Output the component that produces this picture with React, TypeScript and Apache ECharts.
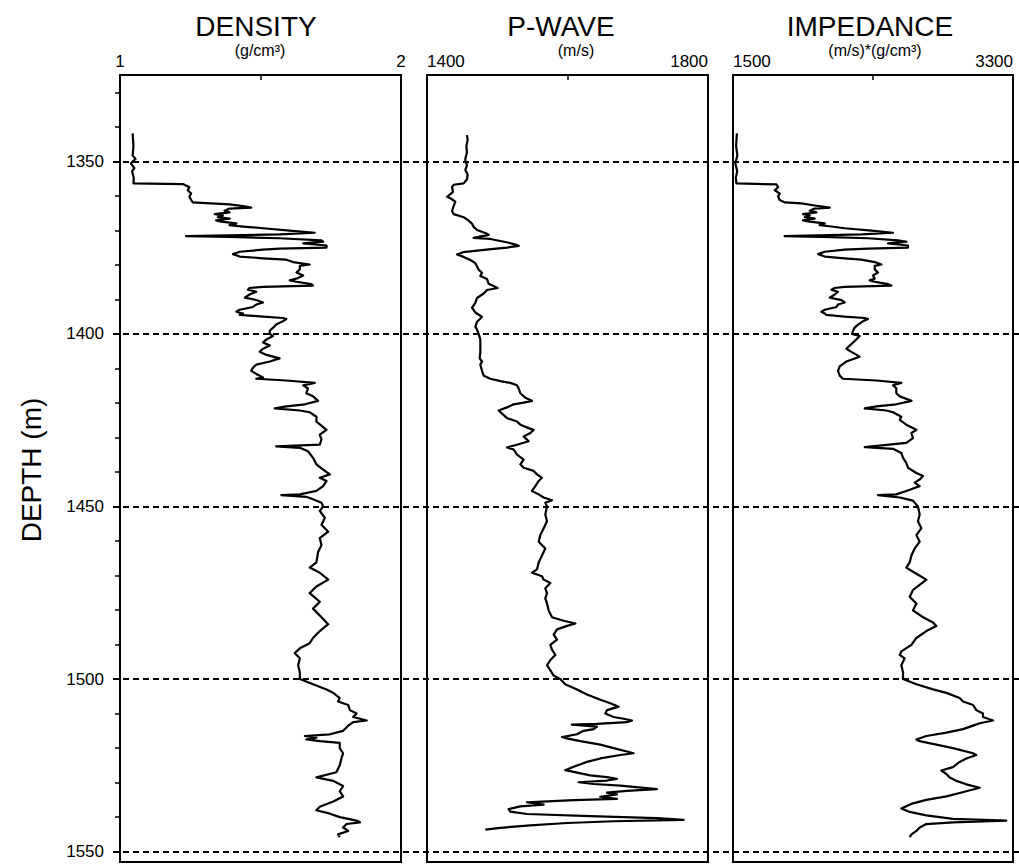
import React, { useEffect, useRef } from "react";
import * as echarts from "echarts";

// ---------- axes / labels ----------
const depthMin = 1325;
const depthMax = 1553;
const depthMajorTicks = [1350, 1400, 1450, 1500, 1550];
const depthMinorTicks = [1330, 1340, 1360, 1370, 1380, 1390, 1410, 1420, 1430, 1440, 1460, 1470, 1480, 1490, 1510, 1520, 1530, 1540];
const panelTitles = ["DENSITY", "P-WAVE", "IMPEDANCE"];
const panelUnits = ["(g/cm³)", "(m/s)", "(m/s)*(g/cm³)"];
const densityRange = [1, 2];
const densityMidTick = [1.5];
const pwaveRange = [1400, 1800];
const pwaveMidTick = [1600];
const impRange = [1500, 3300];
const impMidTick = [2400];

// ---------- DENSITY log ----------
const densityDepth = [1341.9,1345.6,1348.3,1349.3,1350.6,1352.0,1352.9,1354.8,1356.4,1356.6,
1357.5,1358.4,1359.3,1360.2,1361.2,1361.9,1362.5,1363.0,1363.4,1363.7,
1364.3,1364.8,1365.3,1365.7,1366.2,1366.6,1367.1,1367.5,1368.0,1368.5,
1368.9,1369.4,1370.1,1370.7,1371.2,1371.7,1371.9,1372.3,1372.9,1373.3,
1373.8,1374.4,1375.0,1375.3,1375.6,1376.2,1376.9,1377.6,1378.1,1378.5,
1379.2,1379.9,1380.3,1381.3,1382.2,1383.1,1384.0,1384.5,1384.9,1385.6,
1386.0,1386.4,1386.7,1387.2,1387.8,1388.6,1389.5,1390.2,1390.9,1391.5,
1392.2,1393.0,1393.6,1394.1,1394.5,1395.0,1395.4,1395.7,1396.3,1397.3,
1398.2,1399.1,1400.0,1400.6,1401.6,1402.5,1403.4,1404.3,1405.2,1406.1,
1407.1,1408.0,1408.9,1409.8,1410.7,1411.6,1412.6,1413.0,1413.5,1414.2,
1414.9,1415.8,1417.2,1418.1,1419.4,1420.4,1421.0,1421.6,1422.2,1422.7,
1424.0,1425.4,1427.8,1429.2,1430.6,1432.1,1432.6,1433.0,1434.0,1435.9,
1437.8,1439.3,1440.7,1441.7,1442.6,1444.1,1445.5,1446.5,1446.7,1447.2,
1447.9,1448.9,1450.0,1451.3,1453.3,1455.3,1457.3,1459.2,1461.2,1463.2,
1466.2,1467.7,1469.2,1471.2,1473.2,1475.1,1477.6,1479.6,1482.1,1484.1,
1486.1,1488.1,1489.6,1491.1,1492.5,1494.0,1496.0,1498.0,1500.0,1501.5,
1503.0,1504.0,1505.5,1506.5,1507.5,1509.0,1510.0,1511.0,1512.0,1512.5,
1513.5,1515.0,1516.0,1516.5,1517.0,1517.5,1518.0,1518.5,1520.0,1521.5,
1523.0,1525.0,1527.0,1528.5,1529.5,1531.0,1532.5,1534.0,1535.5,1537.0,
1538.0,1539.0,1540.0,1541.0,1541.5,1542.0,1543.0,1544.0,1545.0,1545.8];
const densityValue = [1.045,1.048,1.045,1.055,1.039,1.051,1.043,1.049,1.048,1.224,
1.247,1.241,1.253,1.247,1.253,1.259,1.390,1.438,1.467,1.390,
1.372,1.390,1.337,1.366,1.348,1.390,1.342,1.360,1.414,1.390,
1.438,1.509,1.604,1.693,1.568,1.235,1.390,1.568,1.717,1.723,
1.652,1.735,1.735,1.568,1.509,1.426,1.402,1.426,1.509,1.592,
1.616,1.675,1.640,1.640,1.628,1.652,1.628,1.604,1.628,1.681,
1.687,1.509,1.461,1.455,1.485,1.461,1.444,1.485,1.509,1.485,
1.473,1.426,1.414,1.438,1.426,1.509,1.580,1.592,1.580,1.556,
1.545,1.533,1.533,1.545,1.521,1.509,1.533,1.509,1.497,1.521,
1.568,1.533,1.485,1.473,1.467,1.485,1.509,1.485,1.592,1.693,
1.652,1.669,1.663,1.687,1.705,1.658,1.592,1.551,1.640,1.675,
1.699,1.699,1.735,1.711,1.717,1.711,1.556,1.640,1.669,1.687,
1.699,1.723,1.747,1.711,1.735,1.723,1.699,1.640,1.574,1.663,
1.687,1.717,1.723,1.711,1.729,1.717,1.741,1.711,1.717,1.705,
1.699,1.675,1.711,1.741,1.699,1.675,1.711,1.687,1.717,1.741,
1.711,1.687,1.675,1.640,1.622,1.640,1.634,1.640,1.640,1.687,
1.735,1.759,1.782,1.776,1.812,1.818,1.842,1.830,1.878,1.830,
1.812,1.794,1.747,1.658,1.699,1.663,1.711,1.782,1.782,1.794,
1.788,1.782,1.770,1.699,1.759,1.794,1.782,1.794,1.759,1.711,
1.699,1.747,1.782,1.842,1.854,1.806,1.794,1.812,1.776,1.782];

// ---------- P-WAVE log ----------
const pwaveDepth = [1342.4,1343.8,1345.6,1347.4,1349.3,1350.0,1351.1,1352.5,1353.9,1355.2,
1356.4,1356.8,1357.5,1358.9,1360.3,1360.7,1361.7,1363.0,1364.4,1365.3,
1366.2,1367.2,1368.1,1369.0,1369.9,1370.8,1371.3,1371.7,1372.2,1372.5,
1373.1,1373.6,1374.0,1374.5,1375.0,1375.4,1375.9,1376.3,1377.0,1377.7,
1378.6,1379.5,1380.5,1381.4,1382.3,1383.2,1384.1,1385.5,1386.7,1387.3,
1388.3,1389.6,1391.0,1392.4,1393.8,1395.1,1396.5,1397.9,1398.8,1400.0,
1401.6,1403.4,1405.2,1407.1,1408.0,1408.9,1410.7,1412.1,1413.0,1413.7,
1414.2,1414.9,1415.8,1417.2,1418.5,1419.4,1419.9,1420.4,1421.3,1422.2,
1424.4,1425.4,1426.3,1427.3,1427.8,1428.7,1429.7,1431.1,1432.1,1432.9,
1433.5,1435.0,1436.4,1437.8,1438.8,1439.7,1440.7,1441.7,1442.6,1444.1,
1445.5,1446.5,1447.4,1448.2,1448.9,1450.0,1452.3,1454.3,1456.3,1458.3,
1460.2,1462.2,1464.2,1466.2,1468.2,1469.2,1470.2,1471.2,1472.2,1473.7,
1475.1,1476.6,1478.1,1480.1,1482.1,1483.1,1483.9,1484.6,1485.6,1487.1,
1488.6,1490.1,1491.5,1493.0,1494.5,1496.0,1497.5,1499.0,1500.0,1501.5,
1503.0,1504.5,1506.0,1507.0,1508.0,1509.0,1510.0,1511.0,1511.5,1512.0,
1512.5,1513.0,1513.2,1513.8,1514.5,1515.0,1516.0,1516.8,1517.2,1518.0,
1519.0,1520.0,1521.0,1521.5,1522.0,1523.0,1524.0,1525.4,1526.4,1526.9,
1527.9,1528.4,1528.9,1529.4,1529.9,1530.4,1530.9,1531.9,1532.4,1532.9,
1533.4,1534.1,1534.7,1535.1,1535.7,1536.4,1536.9,1537.7,1538.4,1539.1,
1539.7,1540.3,1540.8,1541.2,1541.7,1542.4,1543.1,1543.6];
const pwaveValue = [1456.9,1457.9,1456.0,1456.9,1454.6,1454.6,1456.9,1454.6,1457.9,1456.9,
1452.2,1438.0,1435.6,1437.0,1428.5,1433.2,1440.3,1438.0,1435.6,1438.0,
1452.2,1459.3,1464.1,1466.4,1471.2,1483.0,1487.8,1478.3,1466.4,1490.2,
1504.4,1516.3,1523.4,1530.5,1513.9,1494.9,1471.2,1452.2,1442.7,1452.2,
1461.7,1468.8,1471.2,1473.5,1478.3,1475.9,1485.4,1487.8,1500.6,1485.4,
1480.7,1471.2,1468.8,1464.1,1468.8,1478.3,1471.2,1468.8,1471.2,1473.5,
1475.9,1475.9,1475.9,1475.0,1478.3,1475.9,1478.3,1480.7,1490.2,1504.4,
1518.6,1528.1,1530.5,1532.9,1540.0,1549.5,1537.6,1523.4,1513.9,1502.0,
1513.9,1528.1,1532.9,1544.7,1551.8,1547.1,1537.6,1544.7,1528.1,1513.9,
1523.4,1528.1,1537.6,1532.9,1537.6,1551.8,1556.6,1563.7,1559.0,1554.2,
1549.5,1559.0,1566.1,1577.9,1568.4,1570.8,1568.4,1570.8,1566.1,1561.3,
1559.0,1568.4,1563.7,1559.0,1556.6,1549.5,1563.7,1566.1,1575.6,1568.4,
1570.8,1568.4,1570.8,1573.2,1577.9,1594.5,1611.2,1599.3,1585.1,1580.3,
1585.1,1575.6,1577.9,1582.7,1575.6,1570.8,1575.6,1580.3,1589.7,1596.8,
1613.4,1627.7,1646.7,1660.9,1672.8,1656.2,1653.8,1665.6,1679.9,1691.7,
1684.6,1641.9,1606.3,1641.9,1637.2,1622.9,1613.4,1592.1,1599.2,1618.2,
1646.7,1665.6,1684.6,1694.1,1675.1,1646.7,1627.7,1608.7,1596.8,1608.7,
1632.4,1656.2,1670.4,1656.2,1615.8,1637.2,1675.1,1727.3,1684.6,1656.2,
1670.4,1646.7,1670.4,1608.7,1542.3,1566.0,1532.8,1516.2,1518.5,1542.3,
1632.4,1727.3,1765.3,1665.6,1599.2,1547.0,1504.3,1483.0];

// ---------- IMPEDANCE log ----------
const impDepth = [1341.9,1345.6,1348.3,1350.6,1352.9,1354.8,1356.4,1356.7,1357.5,1358.4,
1359.3,1360.2,1361.2,1361.9,1362.2,1362.8,1363.2,1363.4,1363.7,1364.3,
1364.8,1365.3,1365.7,1366.2,1366.6,1367.1,1367.5,1368.0,1368.5,1368.9,
1369.4,1370.1,1370.7,1371.2,1371.7,1371.9,1372.3,1372.9,1373.3,1373.8,
1374.4,1375.0,1375.3,1375.6,1376.2,1376.9,1377.6,1378.1,1378.5,1379.2,
1379.9,1380.3,1381.3,1382.2,1383.1,1384.0,1384.5,1384.9,1385.6,1386.0,
1386.4,1386.7,1387.2,1387.8,1388.6,1389.5,1390.2,1390.9,1391.5,1392.2,
1393.0,1393.6,1394.1,1394.5,1395.0,1395.4,1395.7,1396.3,1397.3,1398.2,
1399.1,1400.0,1400.6,1401.6,1402.5,1403.4,1404.3,1405.2,1406.6,1408.0,
1409.4,1410.7,1412.1,1413.0,1413.5,1414.2,1414.9,1415.8,1417.2,1418.1,
1419.4,1420.4,1421.0,1421.6,1422.2,1422.7,1424.0,1424.9,1426.3,1427.8,
1428.7,1430.2,1431.6,1432.8,1433.3,1434.5,1435.9,1437.4,1438.8,1440.3,
1441.2,1442.2,1443.1,1444.1,1445.5,1446.5,1446.7,1447.4,1448.3,1450.0,
1452.3,1454.3,1456.3,1458.3,1460.2,1462.2,1464.2,1466.2,1467.7,1469.2,
1471.2,1472.7,1474.2,1476.2,1478.1,1480.1,1482.1,1483.6,1484.6,1486.1,
1488.1,1490.1,1492.0,1493.0,1494.0,1496.0,1498.0,1500.0,1501.5,1503.0,
1504.0,1505.5,1506.5,1507.5,1509.0,1510.0,1511.0,1512.0,1512.8,1513.5,
1514.5,1515.5,1516.5,1517.5,1518.0,1519.0,1520.0,1521.5,1522.0,1523.0,
1524.0,1525.5,1526.5,1527.5,1528.5,1529.5,1530.5,1531.5,1532.0,1533.0,
1534.0,1535.0,1536.0,1537.5,1538.5,1539.5,1540.5,1541.0,1541.5,1542.0,
1543.0,1544.0,1545.0,1545.8];
const impValue = [1525,1520,1528,1515,1527,1518,1522,1780,1790,1768,
1800,1790,1800,1832,1940,2025,2090,2122,2025,1993,
2036,1950,1993,1961,2025,1950,1993,2090,2057,2132,
2218,2390,2529,2325,1832,2068,2368,2561,2615,2497,
2625,2625,2368,2218,2090,2047,2090,2218,2325,2411,
2454,2411,2411,2432,2400,2411,2379,2411,2497,2518,
2218,2154,2132,2175,2154,2122,2197,2218,2175,2165,
2090,2068,2090,2100,2218,2347,2368,2336,2304,2282,
2272,2265,2314,2293,2272,2250,2229,2261,2314,2229,
2186,2175,2186,2207,2422,2582,2529,2550,2550,2572,
2647,2550,2422,2347,2486,2529,2582,2572,2614,2679,
2647,2657,2614,2347,2529,2582,2593,2614,2625,2679,
2722,2700,2668,2700,2614,2550,2432,2572,2657,2689,
2700,2689,2711,2679,2700,2668,2647,2636,2614,2668,
2743,2700,2657,2636,2679,2657,2722,2786,2807,2743,
2679,2647,2582,2572,2604,2582,2593,2593,2679,2786,
2872,2957,2979,3043,3064,3107,3107,3172,3086,3043,
2979,2872,2743,2679,2700,2807,2914,3043,3064,3000,
2957,2914,2839,2872,2893,2936,3000,3086,3043,2957,
2872,2743,2657,2582,2636,2743,2914,3257,2914,2743,
2700,2679,2647,2636];

// ---------- layout (positions only) ----------
const PLOT_TOP = 75;
const PLOT_HEIGHT = 787;
const panelLefts = [120, 427, 733];
const panelWidths = [281, 281, 280];
const titleCenters = [256, 561, 870];
const unitCenters = [260, 576, 875];
const FONT = "'Liberation Sans', Arial, Helvetica, sans-serif";

export default function App() {
  const ref = useRef<HTMLDivElement>(null);

  useEffect(() => {
    if (!ref.current) return;
    const chart = echarts.init(ref.current, undefined, { renderer: "svg" });

    const zip = (d: number[], v: number[]) => {
      const n = Math.min(d.length, v.length);
      const out: number[][] = [];
      for (let i = 0; i < n; i++) out.push([v[i], d[i]]);
      return out;
    };
    const plain = (v: number) => String(v);

    const panels = [
      { range: densityRange, mid: densityMidTick, data: zip(densityDepth, densityValue), align: false },
      { range: pwaveRange, mid: pwaveMidTick, data: zip(pwaveDepth, pwaveValue), align: true },
      { range: impRange, mid: impMidTick, data: zip(impDepth, impValue), align: true },
    ];

    const black = "#000";

    const grids: any[] = panels.map((_, i) => ({
      left: panelLefts[i],
      top: PLOT_TOP,
      width: panelWidths[i],
      height: PLOT_HEIGHT,
      show: true,
      borderColor: black,
      borderWidth: 2,
      backgroundColor: "rgba(0,0,0,0)",
      containLabel: false,
    }));
    grids.push({ left: 113, top: PLOT_TOP, width: 906, height: PLOT_HEIGHT, show: false });

    const xAxes: any[] = panels.map((p, i) => ({
      type: "value",
      gridIndex: i,
      position: "top",
      min: p.range[0],
      max: p.range[1],
      axisLine: { show: true, onZero: false, lineStyle: { color: black, width: 2 } },
      axisTick: { show: true, inside: true, length: 5, customValues: p.mid, lineStyle: { color: black, width: 1.5 } },
      axisLabel: {
        show: true,
        customValues: p.range,
        formatter: plain,
        margin: 5,
        color: black,
        fontSize: 17,
        fontFamily: FONT,
        alignMinLabel: p.align ? "left" : "center",
        alignMaxLabel: p.align ? "right" : "center",
      },
      splitLine: { show: false },
    }));
    xAxes.push({ type: "value", gridIndex: 3, min: 0, max: 1, show: false });

    const yBase = { type: "value", min: depthMin, max: depthMax, inverse: true, splitLine: { show: false } };
    const yAxes: any[] = [
      {
        ...yBase,
        gridIndex: 0,
        position: "left",
        axisLine: { show: true, onZero: false, lineStyle: { color: black, width: 2 } },
        axisTick: { show: true, length: 7, customValues: depthMajorTicks, lineStyle: { color: black, width: 1.5 } },
        axisLabel: { show: true, customValues: depthMajorTicks, formatter: plain, margin: 16, color: black, fontSize: 17, fontFamily: FONT },
      },
      {
        ...yBase,
        gridIndex: 0,
        position: "left",
        axisLine: { show: false },
        axisTick: { show: true, length: 5, customValues: depthMinorTicks, lineStyle: { color: black, width: 1.5 } },
        axisLabel: { show: false },
      },
      { ...yBase, gridIndex: 1, position: "left", axisLine: { show: true, onZero: false, lineStyle: { color: black, width: 2 } }, axisTick: { show: false }, axisLabel: { show: false } },
      { ...yBase, gridIndex: 2, position: "left", axisLine: { show: true, onZero: false, lineStyle: { color: black, width: 2 } }, axisTick: { show: false }, axisLabel: { show: false } },
      { ...yBase, gridIndex: 3, show: false },
    ];

    const series: any[] = panels.map((p, i) => ({
      type: "line",
      name: panelTitles[i],
      xAxisIndex: i,
      yAxisIndex: i === 0 ? 0 : i + 1,
      data: p.data,
      showSymbol: false,
      symbol: "none",
      silent: true,
      lineStyle: { color: black, width: 2.2, join: "round" },
      z: 3,
    }));
    series.push({
      type: "line",
      xAxisIndex: 3,
      yAxisIndex: 4,
      data: [],
      silent: true,
      z: 4,
      markLine: {
        silent: true,
        symbol: ["none", "none"],
        label: { show: false },
        animation: false,
        lineStyle: { color: black, width: 2, type: [6, 4] },
        data: depthMajorTicks.map((v) => ({ yAxis: v })),
      },
    });

    const graphic: any[] = [];
    panelTitles.forEach((t, i) => {
      graphic.push({
        type: "text",
        x: titleCenters[i],
        y: 26,
        style: { text: t, fontSize: 28, fontFamily: FONT, fill: black, textAlign: "center", textVerticalAlign: "middle" },
      });
      graphic.push({
        type: "text",
        x: unitCenters[i],
        y: 50,
        style: { text: panelUnits[i], fontSize: 16, fontFamily: FONT, fill: black, textAlign: "center", textVerticalAlign: "middle" },
      });
    });
    graphic.push({
      type: "text",
      x: 31,
      y: 470,
      rotation: Math.PI / 2,
      style: { text: "DEPTH (m)", fontSize: 28, fontFamily: FONT, fill: black, textAlign: "center", textVerticalAlign: "middle" },
    });

    chart.setOption({
      animation: false,
      backgroundColor: "#fff",
      grid: grids,
      xAxis: xAxes,
      yAxis: yAxes,
      series,
      graphic,
    });

    return () => chart.dispose();
  }, []);

  return (
    <div
      ref={ref}
      style={{ position: "fixed", left: 0, top: 0, width: 1019, height: 864, background: "#fff" }}
    />
  );
}
